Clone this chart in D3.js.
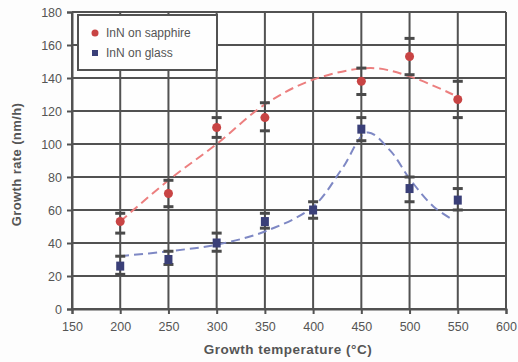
<!DOCTYPE html>
<html>
<head>
<meta charset="utf-8">
<script src="https://cdn.jsdelivr.net/npm/d3@7/dist/d3.min.js"></script>
<style>
  body { margin: 0; background: #fdfdfd; }
  svg { display: block; }
  text { font-family: "Liberation Sans", Arial, sans-serif; fill: #555; }
</style>
</head>
<body>
<svg id="chart" width="518" height="362"></svg>
<script>
// measured points
var temps = [200, 250, 300, 350, 400, 450, 500, 550]
var sapphireTemps = [200, 250, 300, 350, 450, 500, 550]
var sapphireRate = [53, 70, 110, 116, 138, 153, 127]
var sapphireHi = [58, 78, 116, 125, 146, 164, 138]
var sapphireLo = [46, 62, 104, 108, 130, 142, 116]

var glassRate = [26, 30, 40, 53, 60, 109, 73, 66]
var glassHi = [32, 35, 46, 58, 65, 116, 80, 73]
var glassLo = [21, 27, 35, 49, 55, 102, 65, 60]

// guide-to-the-eye curves
var sapphireFitT = [200, 250, 300, 350, 400, 460, 500, 545]
var sapphireFitR = [53, 78, 100, 124, 139, 146, 141, 130]
var glassFitT = [200, 250, 300, 350, 400, 430, 456, 480, 500, 525, 545]
var glassFitR = [32, 35, 39, 47, 62, 85, 107, 96, 79, 62, 54]

var xTicks = [150, 200, 250, 300, 350, 400, 450, 500, 550, 600]
var yTicks = [0, 20, 40, 60, 80, 100, 120, 140, 160, 180]

var seriesNames = ["InN on sapphire", "InN on glass"]

var svg = d3.select("svg#chart"),
    margin = {left: 72, right: 12, top: 12, bottom: 53},
    width = +svg.attr("width") - margin.left - margin.right,
    height = +svg.attr("height") - margin.top - margin.bottom

var x = d3.scaleLinear().domain([150, 600]).range([0, width])
var y = d3.scaleLinear().domain([0, 180]).range([height, 0])

var g = svg.append("g").attr("transform", "translate(" + margin.left + "," + margin.top + ")")

g.append("rect").attr("width", width).attr("height", height).attr("fill", "#fefefe")

// grid
g.append("g").selectAll("line").data(xTicks).enter().append("line")
    .attr("x1", d => x(d)).attr("x2", d => x(d))
    .attr("y1", 0).attr("y2", height)
    .attr("stroke", "#525252").attr("stroke-width", 2)
g.append("g").selectAll("line").data(yTicks).enter().append("line")
    .attr("x1", 0).attr("x2", width)
    .attr("y1", d => y(d)).attr("y2", d => y(d))
    .attr("stroke", "#525252").attr("stroke-width", 2)

// axes
var xAxis = g.append("g").attr("transform", "translate(0," + height + ")")
    .call(d3.axisBottom(x).tickValues(xTicks).tickSize(5).tickPadding(8))
var yAxis = g.append("g")
    .call(d3.axisLeft(y).tickValues(yTicks).tickSize(5).tickPadding(5))
;[xAxis, yAxis].forEach(function(a) {
    a.select(".domain").attr("stroke", "#525252").attr("stroke-width", 2)
    a.selectAll(".tick line").attr("stroke", "#525252").attr("stroke-width", 2)
    a.selectAll(".tick text").style("font-size", "12.5px").attr("fill", "#555")
})

// fitted curves
var line = d3.line().x(d => x(d[0])).y(d => y(d[1])).curve(d3.curveCatmullRom)
g.append("path")
    .datum(sapphireFitT.map((t, i) => [t, sapphireFitR[i]]))
    .attr("d", line).attr("fill", "none")
    .attr("stroke", "#ec7f7f").attr("stroke-width", 2).attr("stroke-dasharray", "9,5")
g.append("path")
    .datum(glassFitT.map((t, i) => [t, glassFitR[i]]))
    .attr("d", line).attr("fill", "none")
    .attr("stroke", "#7e88c4").attr("stroke-width", 2).attr("stroke-dasharray", "9,5")

// error bars
function errorBars(ts, hi, lo) {
    var eb = g.append("g").attr("stroke", "#4a4a4a").attr("stroke-width", 1.5)
    ts.forEach(function(t, i) {
        eb.append("line").attr("x1", x(t)).attr("x2", x(t)).attr("y1", y(hi[i])).attr("y2", y(lo[i]))
        eb.append("line").attr("x1", x(t) - 5).attr("x2", x(t) + 5).attr("y1", y(hi[i])).attr("y2", y(hi[i])).attr("stroke-width", 3)
        eb.append("line").attr("x1", x(t) - 5).attr("x2", x(t) + 5).attr("y1", y(lo[i])).attr("y2", y(lo[i])).attr("stroke-width", 3)
    })
}
errorBars(sapphireTemps, sapphireHi, sapphireLo)
errorBars(temps, glassHi, glassLo)

// points
g.append("g").selectAll("circle").data(sapphireTemps).enter().append("circle")
    .attr("cx", d => x(d)).attr("cy", (d, i) => y(sapphireRate[i])).attr("r", 4.5)
    .attr("fill", "#c84444")
g.append("g").selectAll("rect").data(temps).enter().append("rect")
    .attr("x", d => x(d) - 4).attr("y", (d, i) => y(glassRate[i]) - 4.5)
    .attr("width", 8).attr("height", 9)
    .attr("fill", "#3a3f78")

// legend
var lg = g.append("g").attr("transform", "translate(6,3)")
lg.append("rect").attr("width", 139).attr("height", 55)
    .attr("fill", "#fefefe").attr("stroke", "#525252").attr("stroke-width", 2)
lg.append("circle").attr("cx", 17).attr("cy", 18).attr("r", 3.5).attr("fill", "#c84444")
lg.append("rect").attr("x", 14).attr("y", 35).attr("width", 6).attr("height", 6).attr("fill", "#3a3f78")
lg.append("text").attr("x", 28).attr("y", 22).text(seriesNames[0]).style("font-size", "12px")
lg.append("text").attr("x", 28).attr("y", 42).text(seriesNames[1]).style("font-size", "12px")

// titles
svg.append("text").attr("x", margin.left + width / 2 - 1).attr("y", 354)
    .attr("text-anchor", "middle").style("font-size", "13.5px").style("font-weight", "bold")
    .style("letter-spacing", "0.5px")
    .text("Growth temperature (°C)")
svg.append("text").attr("transform", "translate(21," + (margin.top + height / 2 + 4) + ") rotate(-90)")
    .attr("text-anchor", "middle").style("font-size", "13px").style("font-weight", "bold")
    .style("letter-spacing", "0.4px")
    .text("Growth rate (nm/h)")
</script>
</body>
</html>
